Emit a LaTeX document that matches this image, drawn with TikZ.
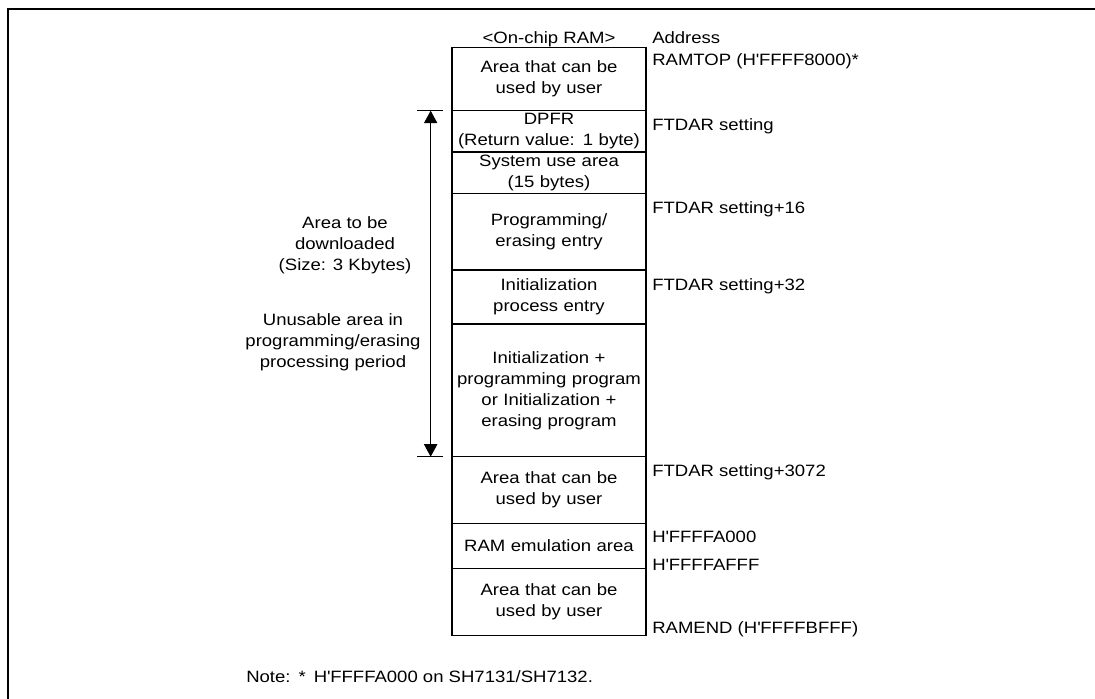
\documentclass[tikz,border=0pt]{standalone}
\usepackage{fontspec}
\setmainfont[FakeStretch=1.13]{Liberation Sans}
\usetikzlibrary{arrows.meta, positioning, calc}
\newcommand{\hx}{H\textquotesingle}

\begin{document}
\begin{tikzpicture}[x=0.75pt, y=-0.75pt,
    font=\fontsize{12.3}{15.75}\selectfont,
    cell/.style={draw, line width=0.9pt, rectangle, minimum width=145.5pt, text width=145.5pt,
        align=center, inner sep=0pt, outer sep=0pt},
    addr/.style={anchor=base west, inner sep=0pt},
    note/.style={align=center, inner sep=0pt},
    dim/.style={line width=0.75pt}]
    \useasboundingbox (0,0) rectangle (1095,699);
    % frame
    \draw[line width=1.5pt] (8,699) -- (8,9) -- (1095,9);

    % memory map
    \node[cell, minimum height=47.25pt, anchor=north west] (user1) at (452,47.7) {Area that can be\\used by user};
    \node[cell, minimum height=31pt, below=0pt of user1] (dpfr) {DPFR\\(Return value: 1 byte)};
    \node[cell, minimum height=31pt, below=0pt of dpfr] (sys) {System use area\\(15 bytes)};
    \node[cell, minimum height=57.5pt, below=0pt of sys] (entry) {Programming/\\erasing entry};
    \node[cell, minimum height=40.5pt, below=0pt of entry] (init) {Initialization\\process entry};
    \node[cell, minimum height=99.5pt, below=0pt of init] (prog) {Initialization +\\programming program\\or Initialization +\\erasing program};
    \node[cell, minimum height=50pt, below=0pt of prog] (user2) {Area that can be\\used by user};
    \node[cell, minimum height=34pt, below=0pt of user2] (emul) {RAM emulation area};
    \node[cell, minimum height=50.25pt, below=0pt of emul] (user3) {Area that can be\\used by user};

    \node[anchor=base, inner sep=0pt] (title) at ([yshift=3.5pt]user1.north) {<On-chip RAM>};

    % addresses
    \node[addr] (hdr) at ([shift={(4.5pt,2.8pt)}]user1.north east) {Address};
    \node[addr] (ramtop) at ([shift={(4.5pt,-13.5pt)}]user1.north east) {RAMTOP (\hx FFFF8000)*};
    \node[addr] (ftdar) at ([shift={(4.5pt,-14.5pt)}]dpfr.north east) {FTDAR setting};
    \node[addr] (ftdar16) at ([shift={(4.5pt,-15.3pt)}]entry.north east) {FTDAR setting+16};
    \node[addr] (ftdar32) at ([shift={(4.5pt,-15pt)}]init.north east) {FTDAR setting+32};
    \node[addr] (ftdar3072) at ([shift={(4.5pt,-14.5pt)}]user2.north east) {FTDAR setting+3072};
    \node[addr] (emtop) at ([shift={(4.5pt,-14pt)}]emul.north east) {\hx FFFFA000};
    \node[addr] (emend) at ([shift={(4.5pt,-1pt)}]emul.south east) {\hx FFFFAFFF};
    \node[addr] (ramend) at ([shift={(4.5pt,2pt)}]user3.south east) {RAMEND (\hx FFFFBFFF)};

    % download range
    \coordinate (dtop) at ([xshift=-16pt]dpfr.north west);
    \coordinate (dbot) at ([xshift=-16pt]prog.south west);
    \draw[dim] ([xshift=-26.25pt]dpfr.north west) -- ([xshift=-6.75pt]dpfr.north west);
    \draw[dim] ([xshift=-26.25pt]prog.south west) -- ([xshift=-6.75pt]prog.south west);
    \draw[dim, {Triangle[length=9.4pt,width=10pt]}-{Triangle[length=9.4pt,width=10pt]}] (dtop) -- (dbot);
    \node[note] (dl) at (345,245) {Area to be\\downloaded\\(Size: 3 Kbytes)};
    \node[note] (unuse) at (333,342.5) {Unusable area in\\programming/erasing\\processing period};

    \node[anchor=base west, inner sep=0pt] (fn) at (246,682) {Note:\hspace{6pt}*\hspace{6pt}\hx FFFFA000 on SH7131/SH7132.};
\end{tikzpicture}
\end{document}
